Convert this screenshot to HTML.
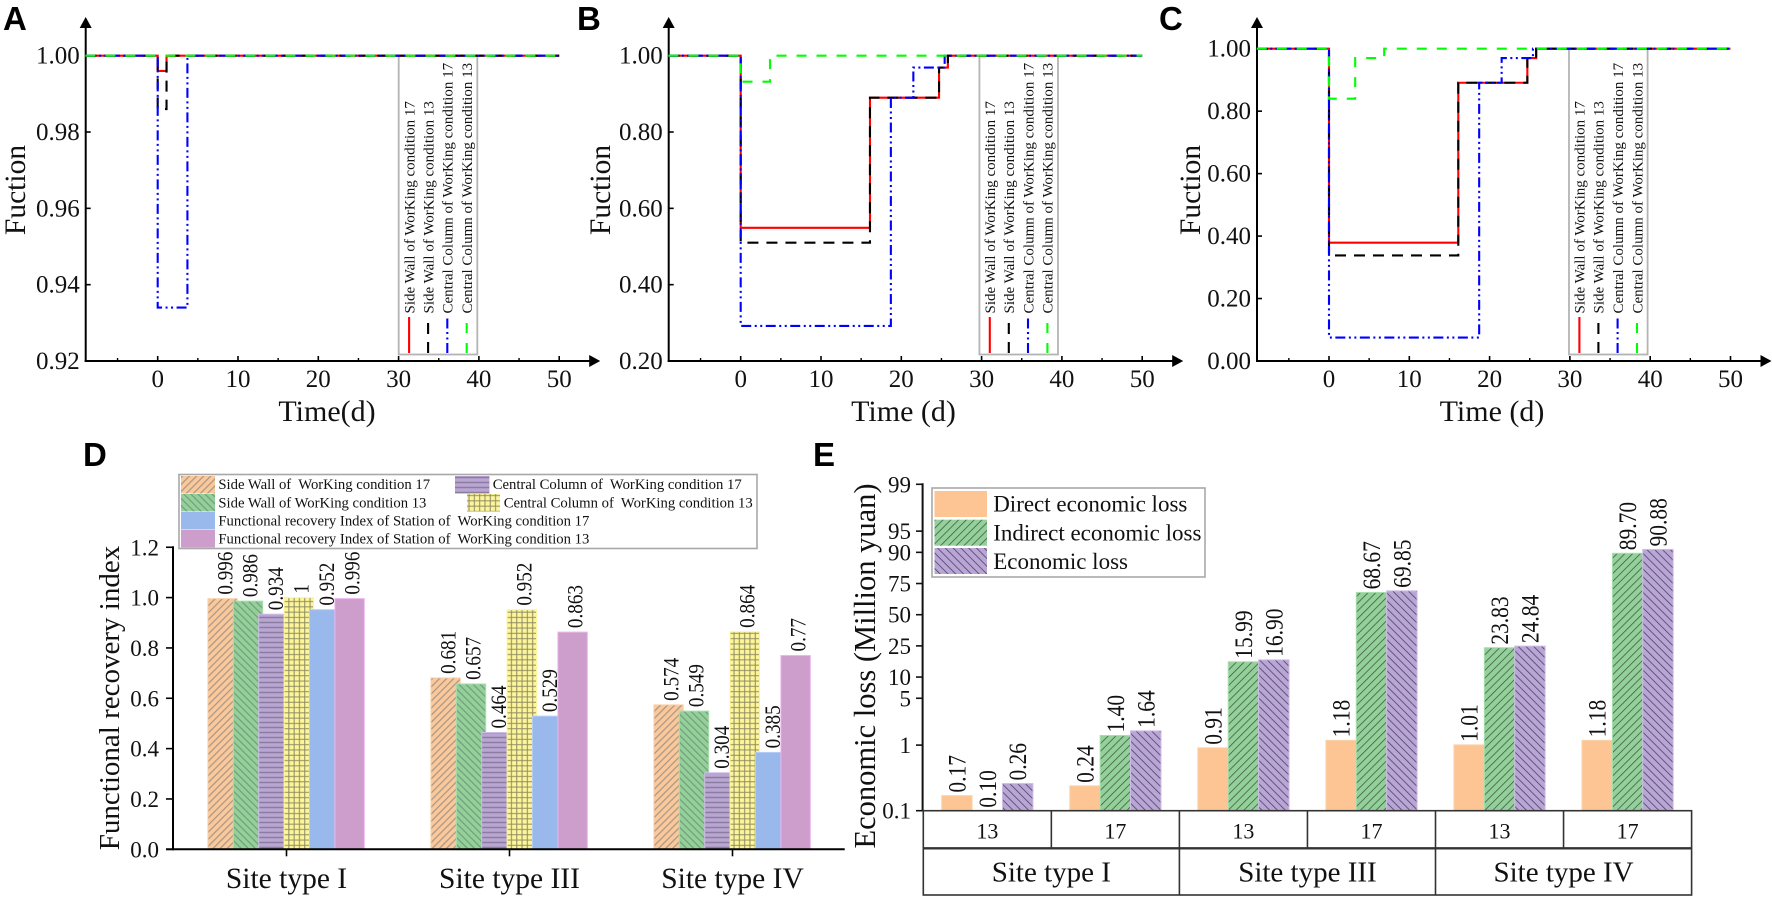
<!DOCTYPE html>
<html lang="en">
<head>
<meta charset="utf-8">
<title>Functional recovery and economic loss charts</title>
<style>
html,body{margin:0;padding:0;background:#fff;width:1772px;height:898px;overflow:hidden}
svg{display:block}
text{font-family:"Liberation Serif",serif;fill:#111}
.letter{font-family:"Liberation Sans",sans-serif;font-weight:700;font-size:33px;fill:#000}
.pre{white-space:pre}
</style>
</head>
<body>
<svg id="figure" xmlns="http://www.w3.org/2000/svg" width="1772" height="898" viewBox="0 0 1772 898">
<defs>
<pattern id="hatch-orange" patternUnits="userSpaceOnUse" width="5" height="5" patternTransform="rotate(45)"><rect width="5" height="5" fill="#fbc899"/><line x1="0" y1="0" x2="0" y2="5" stroke="#a5968a" stroke-width="2.4"/></pattern>
<pattern id="hatch-green" patternUnits="userSpaceOnUse" width="5" height="5" patternTransform="rotate(-45)"><rect width="5" height="5" fill="#94d19a"/><line x1="0" y1="0" x2="0" y2="5" stroke="#749c7b" stroke-width="2.4"/></pattern>
<pattern id="hatch-purple" patternUnits="userSpaceOnUse" width="5" height="5"><rect width="5" height="5" fill="#baa6d2"/><line x1="0" y1="2.5" x2="5" y2="2.5" stroke="#8a7da0" stroke-width="1.5"/></pattern>
<pattern id="hatch-yellow" patternUnits="userSpaceOnUse" width="5.3" height="5.3"><rect width="5.3" height="5.3" fill="#fdf59a"/><path d="M0 2.65H5.3M2.65 0V5.3" stroke="#8e8c62" stroke-width="1"/></pattern>
<pattern id="econ-green" patternUnits="userSpaceOnUse" width="5.5" height="5.5" patternTransform="rotate(45)"><rect width="5.5" height="5.5" fill="#94d19a"/><line x1="0" y1="0" x2="0" y2="5.5" stroke="#3f5c45" stroke-width="1.6"/></pattern>
<pattern id="econ-purple" patternUnits="userSpaceOnUse" width="5.5" height="5.5" patternTransform="rotate(-45)"><rect width="5.5" height="5.5" fill="#baa6d6"/><line x1="0" y1="0" x2="0" y2="5.5" stroke="#4b4360" stroke-width="1.6"/></pattern>
</defs>

<text class="letter" x="3" y="30">A</text>
<text class="letter" x="577" y="30">B</text>
<text class="letter" x="1159" y="30">C</text>
<text class="letter" x="83" y="466">D</text>
<text class="letter" x="813" y="466">E</text>

<g id="panel-a"></g>
<g id="panel-b"></g>
<g id="panel-c"></g>
<g id="panel-d"></g>
<g id="panel-e"></g>

<g font-size="14.7">
<rect x="179" y="474.5" width="578" height="74" fill="#fff" stroke="#a8a8a8" stroke-width="1.6"/>
<rect x="181" y="476" width="34" height="17.5" fill="url(#hatch-orange)"/>
<text class="pre" x="218.4" y="489" xml:space="preserve">Side Wall of  WorKing condition 17</text>
<rect x="181" y="494" width="34" height="17.5" fill="url(#hatch-green)"/>
<text class="pre" x="218.4" y="507.3">Side Wall of WorKing condition 13</text>
<rect x="181" y="512" width="34" height="17.5" fill="#99b8ec"/>
<text class="pre" x="218.4" y="525.3" xml:space="preserve">Functional recovery Index of Station of  WorKing condition 17</text>
<rect x="181" y="530" width="34" height="17.5" fill="#cd9ecb"/>
<text class="pre" x="218.4" y="543.3" xml:space="preserve">Functional recovery Index of Station of  WorKing condition 13</text>
<rect x="455" y="476" width="34.4" height="17.5" fill="url(#hatch-purple)"/>
<text class="pre" x="492.7" y="489" xml:space="preserve">Central Column of  WorKing condition 17</text>
<rect x="467" y="494" width="33" height="17.5" fill="url(#hatch-yellow)"/>
<text class="pre" x="503.7" y="507.3" xml:space="preserve">Central Column of  WorKing condition 13</text>
</g>

<g font-size="23">
<rect x="932" y="488" width="273" height="89" fill="#fff" stroke="#a8a8a8" stroke-width="1.6"/>
<rect x="934.5" y="491" width="52.5" height="26" fill="#fdc593"/>
<text x="993.2" y="511.7">Direct economic loss</text>
<rect x="934.5" y="519.7" width="52.5" height="26" fill="url(#econ-green)"/>
<text x="993.2" y="540.3">Indirect economic loss</text>
<rect x="934.5" y="548" width="52.5" height="26" fill="url(#econ-purple)"/>
<text x="993.2" y="569">Economic loss</text>
</g>
</svg>

<script>
// ---------- Panel A data ----------
const aRedTimes = [-9, 0, 1.1, 50];
const aRedValues = [1, 0.996, 1, 1];
const aBlackTimes = [-9, 0, 1.1, 50];
const aBlackValues = [1, 0.986, 1, 1];
const aBlueTimes = [-9, 0, 3.7, 50];
const aBlueValues = [1, 0.934, 1, 1];
const aGreenTimes = [-9, 50];
const aGreenValues = [1, 1];
const aYTicks = [0.92, 0.94, 0.96, 0.98, 1.00];

// ---------- Panel B data ----------
const bRedTimes = [-9, 0, 16.1, 24.7, 25.8, 50];
const bRedValues = [1, 0.549, 0.89, 0.969, 1, 1];
const bBlackTimes = [-9, 0, 16.1, 24.7, 25.8, 50];
const bBlackValues = [1, 0.51, 0.89, 0.969, 1, 1];
const bBlueTimes = [-9, 0, 18.7, 21.5, 25.4, 50];
const bBlueValues = [1, 0.292, 0.89, 0.969, 1, 1];
const bGreenTimes = [-9, 0, 3.65, 50];
const bGreenValues = [1, 0.932, 1, 1];
const bYTicks = [0.20, 0.40, 0.60, 0.80, 1.00];

// ---------- Panel C data ----------
const cRedTimes = [-9, 0, 16.1, 24.7, 25.8, 50];
const cRedValues = [1, 0.379, 0.891, 0.97, 1, 1];
const cBlackTimes = [-9, 0, 16.1, 24.7, 25.8, 50];
const cBlackValues = [1, 0.338, 0.891, 0.97, 1, 1];
const cBlueTimes = [-9, 0, 18.7, 21.5, 25.4, 50];
const cBlueValues = [1, 0.075, 0.891, 0.97, 1, 1];
const cGreenTimes = [-9, 0, 3.26, 6.87, 50];
const cGreenValues = [1, 0.84, 0.97, 1, 1];
const cYTicks = [0.00, 0.20, 0.40, 0.60, 0.80, 1.00];

const timeMajorTicks = [0, 10, 20, 30, 40, 50];
const timeMinorTicks = [-5, 5, 15, 25, 35, 45];
const lineLegendLabels = [
  'Side Wall of WorKing condition 17',
  'Side Wall of WorKing condition 13',
  'Central Column of WorKing condition 17',
  'Central Column of WorKing condition 13'
];

// ---------- Panel D data ----------
const siteTypes = ['Site type I', 'Site type III', 'Site type IV'];
const sideWall17 = [0.996, 0.681, 0.574];
const sideWall13 = [0.986, 0.657, 0.549];
const column17 = [0.934, 0.464, 0.304];
const column13 = [1, 0.952, 0.864];
const station17 = [0.952, 0.529, 0.385];
const station13 = [0.996, 0.863, 0.77];
const recoveryTicks = [0.0, 0.2, 0.4, 0.6, 0.8, 1.0, 1.2];

// ---------- Panel E data ----------
const conditions = ['13', '17', '13', '17', '13', '17'];
const directLoss = [0.17, 0.24, 0.91, 1.18, 1.01, 1.18];
const indirectLoss = [0.10, 1.40, 15.99, 68.67, 23.83, 89.70];
const totalLoss = [0.26, 1.64, 16.90, 69.85, 24.84, 90.88];
const lossTicks = [0.1, 1, 5, 10, 25, 50, 75, 90, 95, 99];

const NS = 'http://www.w3.org/2000/svg';
function make(tag, parent, attrs, content) {
  const node = document.createElementNS(NS, tag);
  for (const key in attrs) node.setAttribute(key, attrs[key]);
  if (content !== undefined) node.textContent = content;
  parent.appendChild(node);
  return node;
}

function drawLinePanel(id, frame, series, yTicks, yMin, yMax, timeTitle) {
  const root = document.getElementById(id);
  const xAt = t => frame.x0 + t * 8.03;
  const yAt = v => frame.yBottom - (v - yMin) / (yMax - yMin) * (frame.yBottom - frame.yTop);
  const tipX = xAt(50) + 41;
  let el;

  el = make('line', root, {x1: frame.axisX, y1: 26, x2: frame.axisX, y2: frame.yBottom + 1, stroke: '#000', 'stroke-width': 2});
  
  
  el = make('line', root, {x1: frame.axisX - 1, y1: frame.yBottom, x2: tipX - 8, y2: frame.yBottom, stroke: '#000', 'stroke-width': 2});
  
  
  el = make('polygon', root, {points: (frame.axisX - 6) + ',28 ' + (frame.axisX + 6) + ',28 ' + frame.axisX + ',17', fill: '#000'});
  
  
  el = make('polygon', root, {points: (tipX - 11) + ',' + (frame.yBottom - 6) + ' ' + (tipX - 11) + ',' + (frame.yBottom + 6) + ' ' + tipX + ',' + frame.yBottom, fill: '#000'});
  
  

  yTicks.forEach(v => {
    let t = make('line', root, {x1: frame.axisX, y1: yAt(v), x2: frame.axisX + 5, y2: yAt(v), stroke: '#000', 'stroke-width': 1.6});
    
    
    t = make('text', root, {x: frame.axisX - 6, y: yAt(v) + 8, 'text-anchor': 'end', 'font-size': 25}, v.toFixed(2));
    
    
  });
  timeMajorTicks.forEach(v => {
    let t = make('line', root, {x1: xAt(v), y1: frame.yBottom, x2: xAt(v), y2: frame.yBottom - 5, stroke: '#000', 'stroke-width': 1.6});
    
    
    t = make('text', root, {x: xAt(v), y: 387, 'text-anchor': 'middle', 'font-size': 25}, String(v));
    
    
  });
  timeMinorTicks.forEach(v => {
    const t = make('line', root, {x1: xAt(v), y1: frame.yBottom, x2: xAt(v), y2: frame.yBottom - 3, stroke: '#000', 'stroke-width': 1.4});
    
    
  });

  el = make('text', root, {x: frame.titleX, y: 421, 'text-anchor': 'middle', 'font-size': 30}, timeTitle);
  
  
  el = make('text', root, {x: 0, y: 0, 'text-anchor': 'middle', 'font-size': 29.5, transform: 'translate(' + frame.yTitleX + ',190) rotate(-90)'}, 'Fuction');
  
  

  el = make('rect', root, {x: frame.legendX, y: yAt(yMax), width: 78.6, height: 354.5 - yAt(yMax), fill: 'none', stroke: '#b4b4b4', 'stroke-width': 1.8});
  
  

  series.forEach(s => {
    let d = '';
    s.times.forEach((t, i) => {
      if (i === 0) d += 'M' + xAt(t) + ' ' + yAt(s.values[i]);
      else d += 'H' + xAt(t) + 'V' + yAt(s.values[i]);
    });
    const p = make('path', root, {d: d, fill: 'none', stroke: s.color, 'stroke-width': 2.1, 'stroke-dasharray': s.dash});
    
    
  });

  const offsets = [10.4, 29.4, 48.6, 68];
  series.forEach((s, i) => {
    const hx = frame.legendX + offsets[i];
    const h = make('line', root, {x1: hx, y1: 353, x2: hx, y2: 317, stroke: s.color, 'stroke-width': 2.1, 'stroke-dasharray': s.dash});
    
    
    const t = make('text', root, {x: 0, y: 0, 'font-size': 15, transform: 'translate(' + (hx + 5.3) + ',313.5) rotate(-90)'}, lineLegendLabels[i]);
    
    
  });
}

const DASH_SOLID = 'none';
const DASH_BLACK = '11 8';
const DASH_GREEN = '10 10';
const DASH_DOTS = '10 3.5 2 3.5 2 3.5';
function seriesOf(rt, rv, kt, kv, bt, bv, gt, gv) {
  return [
    {key: 'side-wall-17', times: rt, values: rv, color: '#ff0000', dash: DASH_SOLID},
    {key: 'side-wall-13', times: kt, values: kv, color: '#000000', dash: DASH_BLACK},
    {key: 'column-17', times: bt, values: bv, color: '#0000ff', dash: DASH_DOTS},
    {key: 'column-13', times: gt, values: gv, color: '#00ff00', dash: DASH_GREEN}
  ];
}

drawLinePanel('panel-a', {axisX: 85.7, x0: 157.7, yTop: 55.7, yBottom: 361, legendX: 398.7, titleX: 327, yTitleX: 25},
  seriesOf(aRedTimes, aRedValues, aBlackTimes, aBlackValues, aBlueTimes, aBlueValues, aGreenTimes, aGreenValues),
  aYTicks, 0.92, 1.00, 'Time(d)');
drawLinePanel('panel-b', {axisX: 668.7, x0: 740.7, yTop: 55.7, yBottom: 361, legendX: 979.4, titleX: 903.5, yTitleX: 610},
  seriesOf(bRedTimes, bRedValues, bBlackTimes, bBlackValues, bBlueTimes, bBlueValues, bGreenTimes, bGreenValues),
  bYTicks, 0.20, 1.00, 'Time (d)');
drawLinePanel('panel-c', {axisX: 1257, x0: 1329, yTop: 48.7, yBottom: 361, legendX: 1569, titleX: 1492, yTitleX: 1200},
  seriesOf(cRedTimes, cRedValues, cBlackTimes, cBlackValues, cBlueTimes, cBlueValues, cGreenTimes, cGreenValues),
  cYTicks, 0.00, 1.00, 'Time (d)');

// ---------- Panel D ----------
(function () {
  const root = document.getElementById('panel-d');
  const yBase = 849.3, perUnit = 251.7, axisX = 173;
  const yAt = v => yBase - v * perUnit;
  const groupX = i => 286.5 + i * 223;
  const barW = 29.4, step = 25.4;
  const rows = [
    {key: 'side-wall-17', values: sideWall17, fill: 'url(#hatch-orange)', edge: '#fcd3ac'},
    {key: 'side-wall-13', values: sideWall13, fill: 'url(#hatch-green)', edge: '#a9e0ae'},
    {key: 'column-17', values: column17, fill: 'url(#hatch-purple)', edge: '#cdbbe6'},
    {key: 'column-13', values: column13, fill: 'url(#hatch-yellow)', edge: '#fdf59a'},
    {key: 'station-17', values: station17, fill: '#99b8ec', edge: '#b5cdf5'},
    {key: 'station-13', values: station13, fill: '#cd9ecb', edge: '#edb4ee'}
  ];
  let el;
  rows.forEach((r, ri) => {
    r.values.forEach((v, gi) => {
      const left = groupX(gi) - 78.6 + ri * step;
      const bar = make('rect', root, {x: left, y: yAt(v), width: barW, height: yBase - yAt(v), fill: r.fill, stroke: r.edge, 'stroke-width': 1});
      
      
    });
  });
  rows.forEach((r, ri) => {
    r.values.forEach((v, gi) => {
      const center = groupX(gi) - 78.6 + ri * step + barW / 2;
      const t = make('text', root, {x: 0, y: 0, 'font-size': 22, transform: 'translate(' + (center + 9.7) + ',' + (yAt(v) - 4) + ') rotate(-90) scale(0.87,1)'}, String(v));
      
      
    });
  });
  el = make('line', root, {x1: axisX, y1: yAt(1.2) - 1, x2: axisX, y2: yBase + 1, stroke: '#000', 'stroke-width': 2});
  
  
  el = make('line', root, {x1: axisX - 7, y1: yBase, x2: 844.7, y2: yBase, stroke: '#000', 'stroke-width': 2});
  
  
  recoveryTicks.forEach(v => {
    let t = make('line', root, {x1: axisX - 7, y1: yAt(v), x2: axisX, y2: yAt(v), stroke: '#000', 'stroke-width': 1.6});
    
    
    t = make('text', root, {x: 159, y: yAt(v) + 8, 'text-anchor': 'end', 'font-size': 23}, v.toFixed(1));
    
    
  });
  siteTypes.forEach((name, i) => {
    let t = make('line', root, {x1: groupX(i), y1: yBase, x2: groupX(i), y2: yBase + 7, stroke: '#000', 'stroke-width': 1.6});
    
    
    t = make('text', root, {x: groupX(i), y: 888, 'text-anchor': 'middle', 'font-size': 29.5}, name);
    
    
  });
  el = make('text', root, {x: 0, y: 0, 'text-anchor': 'middle', 'font-size': 29, transform: 'translate(119,698) rotate(-90)'}, 'Functional recovery index');
  
  
})();

// ---------- Panel E ----------
(function () {
  const root = document.getElementById('panel-e');
  const yAt = v => 614.7 - 28.38 * Math.log((v / 100) / (1 - v / 100));
  const yBase = yAt(0.1);
  const tableLeft = 923.3, cellW = 128.05, rowOne = 848.3, rowTwo = 895;
  const centerOf = i => tableLeft + cellW * (i + 0.5);
  const barW = 30.4;
  const rows = [
    {key: 'direct', values: directLoss, fill: '#fdc593', edge: '#fdd3ac'},
    {key: 'indirect', values: indirectLoss, fill: 'url(#econ-green)', edge: '#a9e0ae'},
    {key: 'total', values: totalLoss, fill: 'url(#econ-purple)', edge: '#cdbbe6'}
  ];
  let el;
  rows.forEach((r, ri) => {
    r.values.forEach((v, i) => {
      const left = centerOf(i) - 1.5 * barW + ri * barW;
      const bar = make('rect', root, {x: left, y: yAt(v), width: barW, height: yBase - yAt(v), fill: r.fill, stroke: r.edge, 'stroke-width': 1});
      
      
      const t = make('text', root, {x: 0, y: 0, 'font-size': 25, transform: 'translate(' + (left + barW / 2 + 8.5) + ',' + (yAt(v) - 3) + ') rotate(-90) scale(0.86,1)'}, v.toFixed(2));
      
      
    });
  });
  el = make('line', root, {x1: 922.6, y1: yAt(99) - 1, x2: 922.6, y2: yBase, stroke: '#111', 'stroke-width': 2});
  
  
  lossTicks.forEach(v => {
    let t = make('line', root, {x1: 916, y1: yAt(v), x2: 922.6, y2: yAt(v), stroke: '#111', 'stroke-width': 1.6});
    
    
    t = make('text', root, {x: 911, y: yAt(v) + 8, 'text-anchor': 'end', 'font-size': 23}, String(v));
    
    
  });
  el = make('text', root, {x: 0, y: 0, 'text-anchor': 'middle', 'font-size': 30.5, transform: 'translate(875,666) rotate(-90)'}, 'Economic loss (Million yuan)');
  
  

  el = make('rect', root, {x: tableLeft, y: yBase, width: cellW * conditions.length, height: rowTwo - yBase, fill: 'none', stroke: '#333', 'stroke-width': 1.6});
  
  
  el = make('line', root, {x1: tableLeft, y1: rowOne, x2: tableLeft + cellW * conditions.length, y2: rowOne, stroke: '#333', 'stroke-width': 2.4});
  
  
  conditions.forEach((name, i) => {
    const t = make('text', root, {x: centerOf(i), y: 838.3, 'text-anchor': 'middle', 'font-size': 22}, name);
    
    
    if (i > 0) {
      const boundary = tableLeft + cellW * i;
      const lower = i % 2 === 0 ? rowTwo : rowOne;
      const l = make('line', root, {x1: boundary, y1: yBase, x2: boundary, y2: lower, stroke: '#333', 'stroke-width': 1.6});
      
      
    }
  });
  siteTypes.forEach((name, i) => {
    const t = make('text', root, {x: tableLeft + cellW * (2 * i + 1), y: 881.7, 'text-anchor': 'middle', 'font-size': 29}, name);
    
    
  });
})();
</script>
</body>
</html>
